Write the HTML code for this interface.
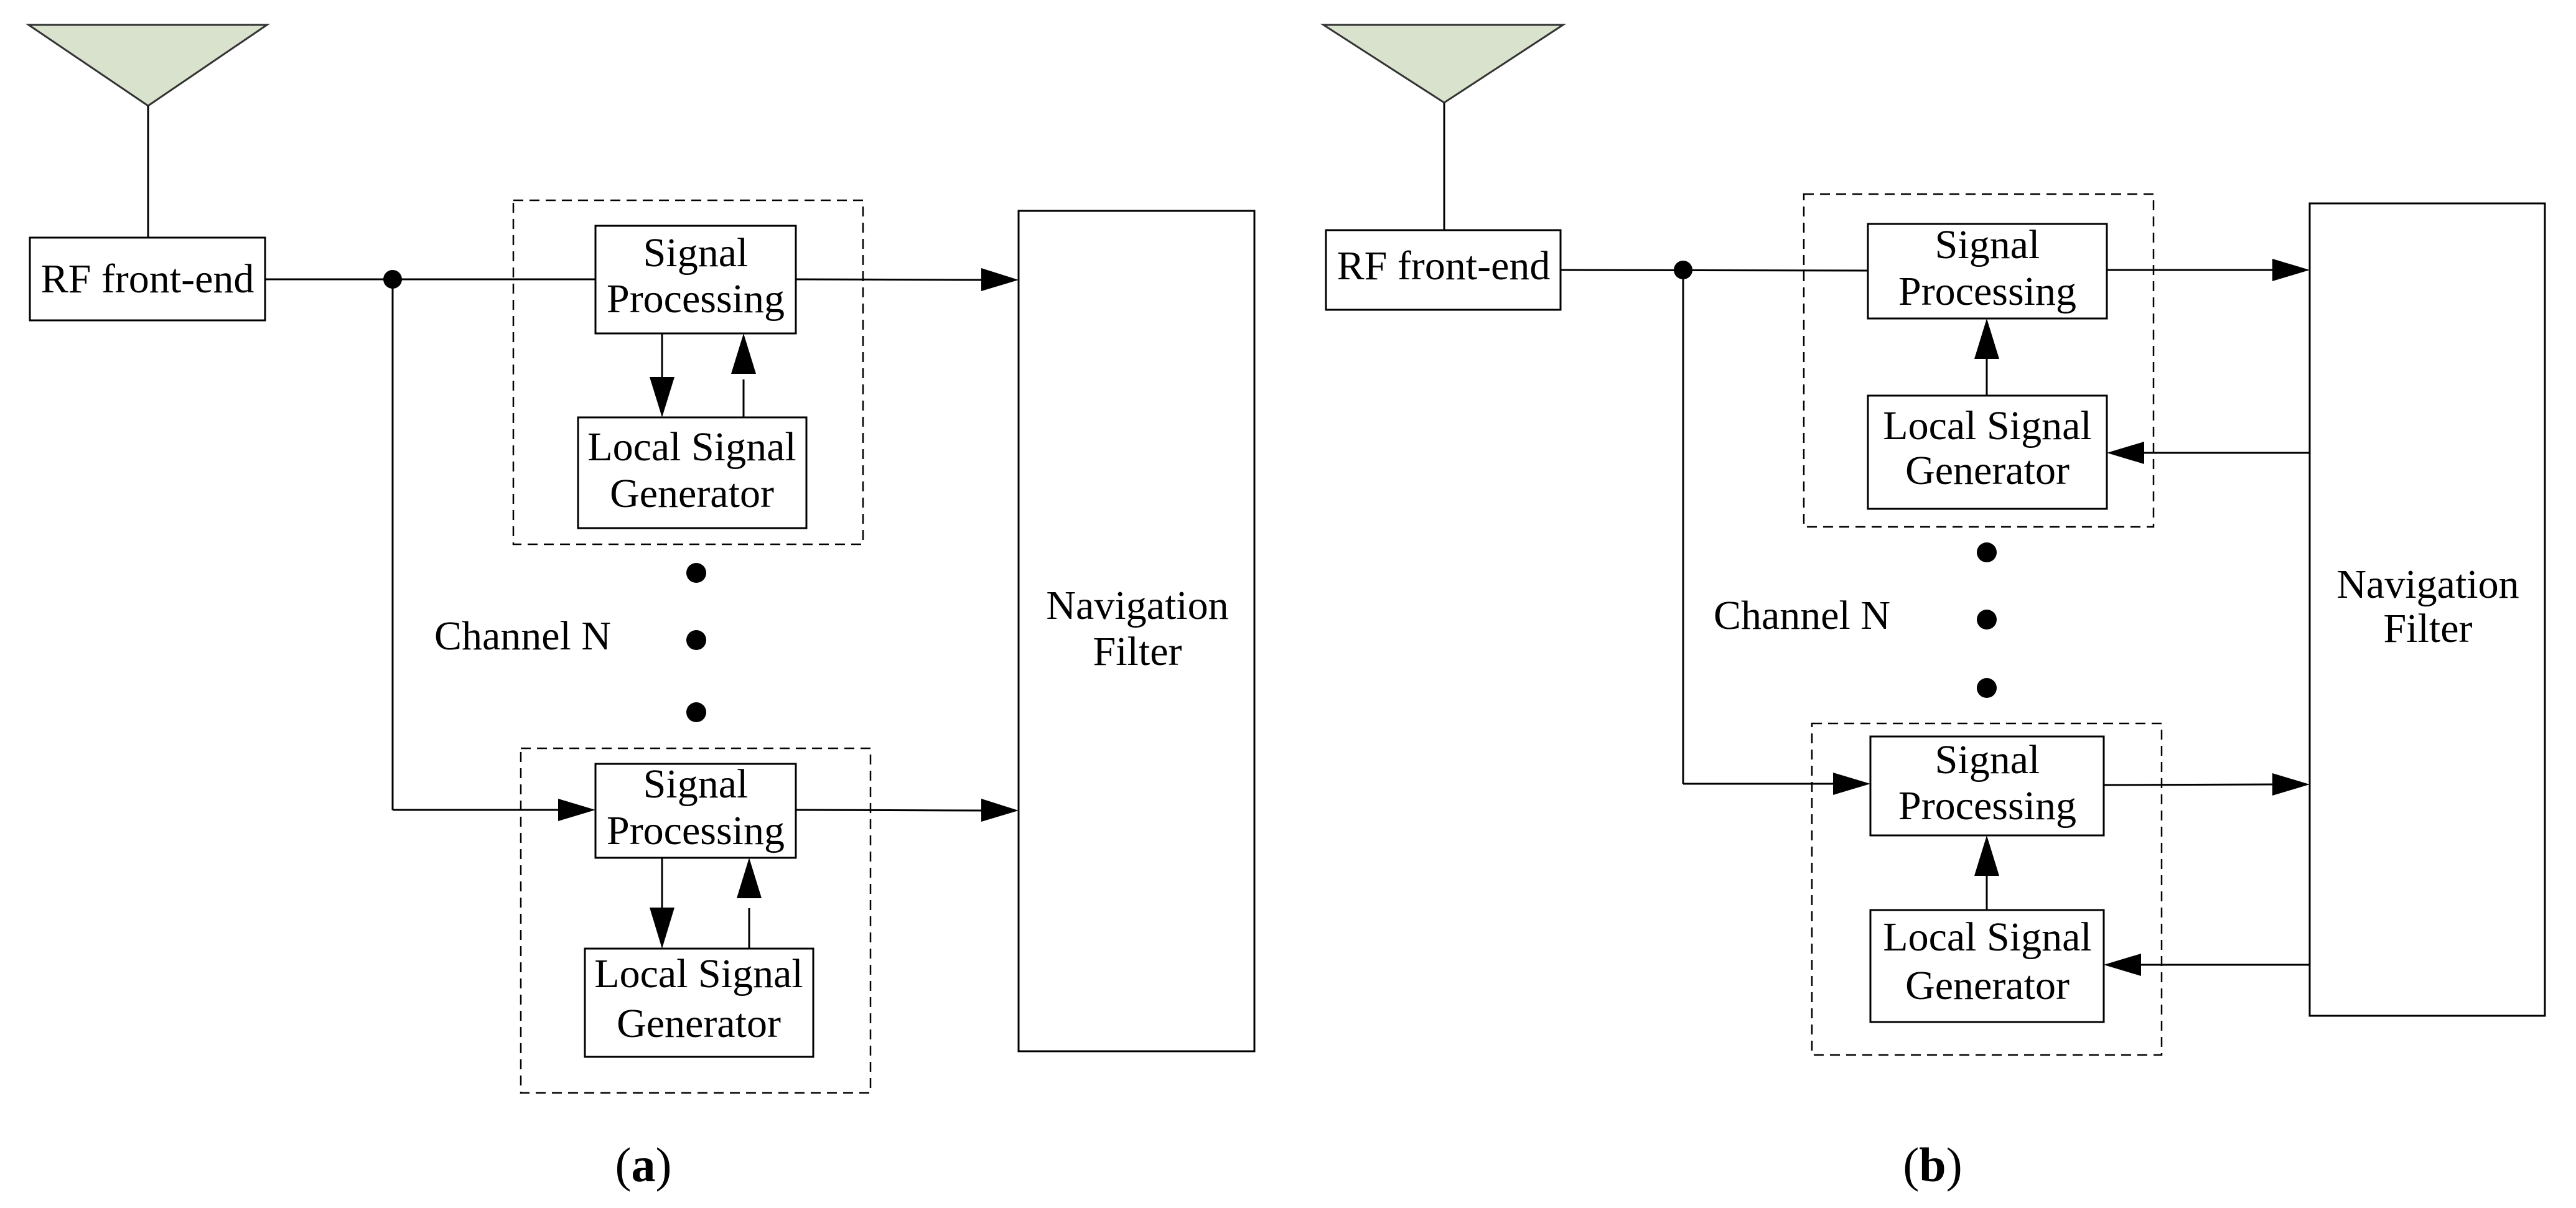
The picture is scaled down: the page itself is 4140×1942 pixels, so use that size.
<!DOCTYPE html>
<html><head><meta charset="utf-8"><style>html,body{margin:0;padding:0;background:#fff}svg{display:block}text{font-family:"Liberation Serif",serif;font-size:66px;fill:#000;text-anchor:middle;dominant-baseline:middle}</style></head><body>
<svg width="4140" height="1942" viewBox="0 0 4140 1942" xmlns="http://www.w3.org/2000/svg">
<g stroke="#000" stroke-width="3" fill="none">
<polygon points="46,40 429,40 238,170" fill="#d9e2cc" stroke="#333"/>
<line x1="238" y1="170" x2="238" y2="382"/>
<rect x="48" y="382" width="378" height="133" fill="#fff"/>
<line x1="426" y1="449" x2="957" y2="449"/>
<line x1="631" y1="449" x2="631" y2="1302"/>
<line x1="631" y1="1302" x2="900" y2="1302"/>
<rect x="825" y="322" width="562" height="553" stroke-dasharray="16 10" stroke-width="2.5"/>
<rect x="837" y="1203" width="562" height="554" stroke-dasharray="16 10" stroke-width="2.5"/>
<rect x="957" y="363" width="322" height="173" fill="#fff"/>
<rect x="929" y="671" width="367" height="178" fill="#fff"/>
<rect x="957" y="1228" width="322" height="151" fill="#fff"/>
<rect x="940" y="1525" width="367" height="174" fill="#fff"/>
<rect x="1637" y="339" width="379" height="1351" fill="#fff"/>
<line x1="1279" y1="449" x2="1580" y2="450"/>
<line x1="1279" y1="1302" x2="1580" y2="1303"/>
<line x1="1064" y1="536" x2="1064" y2="610"/>
<line x1="1195" y1="610" x2="1195" y2="671"/>
<line x1="1064" y1="1379" x2="1064" y2="1460"/>
<line x1="1204" y1="1460" x2="1204" y2="1525"/>
<polygon points="2127,40 2512,40 2321,165" fill="#d9e2cc" stroke="#333"/>
<line x1="2321" y1="165" x2="2321" y2="370"/>
<rect x="2131" y="370" width="377" height="128" fill="#fff"/>
<line x1="2508" y1="434" x2="3002" y2="435"/>
<line x1="2705" y1="434" x2="2705" y2="1260"/>
<line x1="2705" y1="1260" x2="2950" y2="1260"/>
<rect x="2899" y="312" width="562" height="535" stroke-dasharray="16 10" stroke-width="2.5"/>
<rect x="2912" y="1163" width="562" height="533" stroke-dasharray="16 10" stroke-width="2.5"/>
<rect x="3002" y="360" width="384" height="152" fill="#fff"/>
<rect x="3002" y="636" width="384" height="182" fill="#fff"/>
<rect x="3006" y="1184" width="375" height="159" fill="#fff"/>
<rect x="3006" y="1463" width="375" height="180" fill="#fff"/>
<rect x="3712" y="327" width="378" height="1306" fill="#fff"/>
<line x1="3386" y1="434" x2="3655" y2="434"/>
<line x1="3381" y1="1262" x2="3655" y2="1261"/>
<line x1="3193" y1="636" x2="3193" y2="570"/>
<line x1="3193" y1="1463" x2="3193" y2="1400"/>
<line x1="3712" y1="728" x2="3440" y2="728"/>
<line x1="3712" y1="1551" x2="3440" y2="1551"/>
</g>
<g fill="#000">
<polygon points="1577,431 1637,450 1577,468"/>
<polygon points="1577,1284 1637,1303 1577,1321"/>
<polygon points="897,1284 957,1302 897,1320"/>
<polygon points="1044,606 1084,606 1064,671"/>
<polygon points="1175,601 1215,601 1195,536"/>
<polygon points="1044,1459 1084,1459 1064,1525"/>
<polygon points="1184,1444 1224,1444 1204,1379"/>
<circle cx="631" cy="449" r="15"/>
<circle cx="1119" cy="921" r="16"/><circle cx="1119" cy="1029" r="16"/><circle cx="1119" cy="1145" r="16"/>
<polygon points="3652,416 3712,434 3652,452"/>
<polygon points="3652,1243 3712,1261 3652,1279"/>
<polygon points="2946,1242 3006,1260 2946,1278"/>
<polygon points="3173,577 3213,577 3193,512"/>
<polygon points="3173,1408 3213,1408 3193,1343"/>
<polygon points="3446,710 3386,728 3446,746"/>
<polygon points="3441,1533 3381,1551 3441,1569"/>
<circle cx="2705" cy="434" r="15"/>
<circle cx="3193" cy="888" r="16"/><circle cx="3193" cy="996" r="16"/><circle cx="3193" cy="1106" r="16"/>
</g>
<g>
<text x="237" y="455">RF front-end</text>
<text x="1118" y="413">Signal</text><text x="1118" y="487">Processing</text>
<text x="1112" y="725">Local Signal</text><text x="1112" y="800">Generator</text>
<text x="1118" y="1267">Signal</text><text x="1118" y="1342">Processing</text>
<text x="1123" y="1572">Local Signal</text><text x="1123" y="1652">Generator</text>
<text x="1828" y="980">Navigation</text><text x="1828" y="1054">Filter</text>
<text x="840" y="1029">Channel N</text>
<text x="1034" y="1881" style="font-size:78px">(<tspan font-weight="bold">a</tspan>)</text>
<text x="2320" y="434">RF front-end</text>
<text x="3194" y="400">Signal</text><text x="3194" y="475">Processing</text>
<text x="3194" y="691">Local Signal</text><text x="3194" y="763">Generator</text>
<text x="3194" y="1228">Signal</text><text x="3194" y="1302">Processing</text>
<text x="3194" y="1513">Local Signal</text><text x="3194" y="1591">Generator</text>
<text x="3902" y="946">Navigation</text><text x="3902" y="1017">Filter</text>
<text x="2896" y="996">Channel N</text>
<text x="3106" y="1881" style="font-size:78px">(<tspan font-weight="bold">b</tspan>)</text>
</g>
</svg>
</body></html>
